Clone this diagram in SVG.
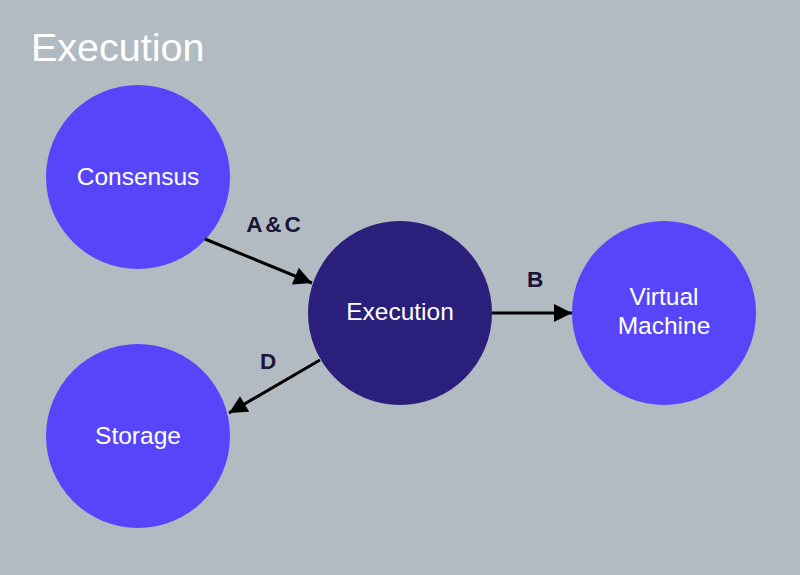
<svg xmlns="http://www.w3.org/2000/svg" width="800" height="575" viewBox="0 0 800 575">
<defs>
<style>
.node{fill:#5746f9}
.main{fill:#2a1f7a}
.nt{fill:#ffffff;font-family:"Liberation Sans",Arial,sans-serif;font-size:24.5px;text-anchor:middle}
.el{fill:#1a1538;font-family:"Liberation Sans",Arial,sans-serif;font-size:22.5px;font-weight:bold;text-anchor:middle}
.edge{stroke:#000;stroke-width:3;fill:none}
</style>
<marker id="ah" viewBox="0 0 10 10" refX="10" refY="5" markerWidth="6.5" markerHeight="6" markerUnits="strokeWidth" orient="auto">
<path d="M0,0 L10,5 L0,10 z" fill="#000"/>
</marker>
</defs>
<rect width="800" height="575" fill="#b3bbc2"/>
<text x="31" y="61" font-family="Liberation Sans,Arial,sans-serif" font-size="39.5" fill="#ffffff">Execution</text>
<g id="consensus"><circle class="node" cx="138" cy="177" r="92"/><text class="nt" x="138" y="185">Consensus</text></g>
<g id="execution"><circle class="main" cx="400" cy="313" r="92"/><text class="nt" x="400" y="320">Execution</text></g>
<g id="vm"><circle class="node" cx="664" cy="313" r="92"/><text class="nt" x="664" y="305">Virtual</text><text class="nt" x="664" y="334">Machine</text></g>
<g id="storage"><circle class="node" cx="138" cy="436" r="92"/><text class="nt" x="138" y="444">Storage</text></g>
<g id="connectors">
<line class="edge" x1="205" y1="239" x2="312" y2="283" marker-end="url(#ah)"/>
<line class="edge" x1="492" y1="313" x2="572" y2="313" marker-end="url(#ah)"/>
<line class="edge" x1="320" y1="360" x2="229" y2="413" marker-end="url(#ah)"/>
<text class="el" x="275" y="232" letter-spacing="3">A&amp;C</text>
<text class="el" x="535" y="287">B</text>
<text class="el" x="268" y="369">D</text>
</g>
</svg>
